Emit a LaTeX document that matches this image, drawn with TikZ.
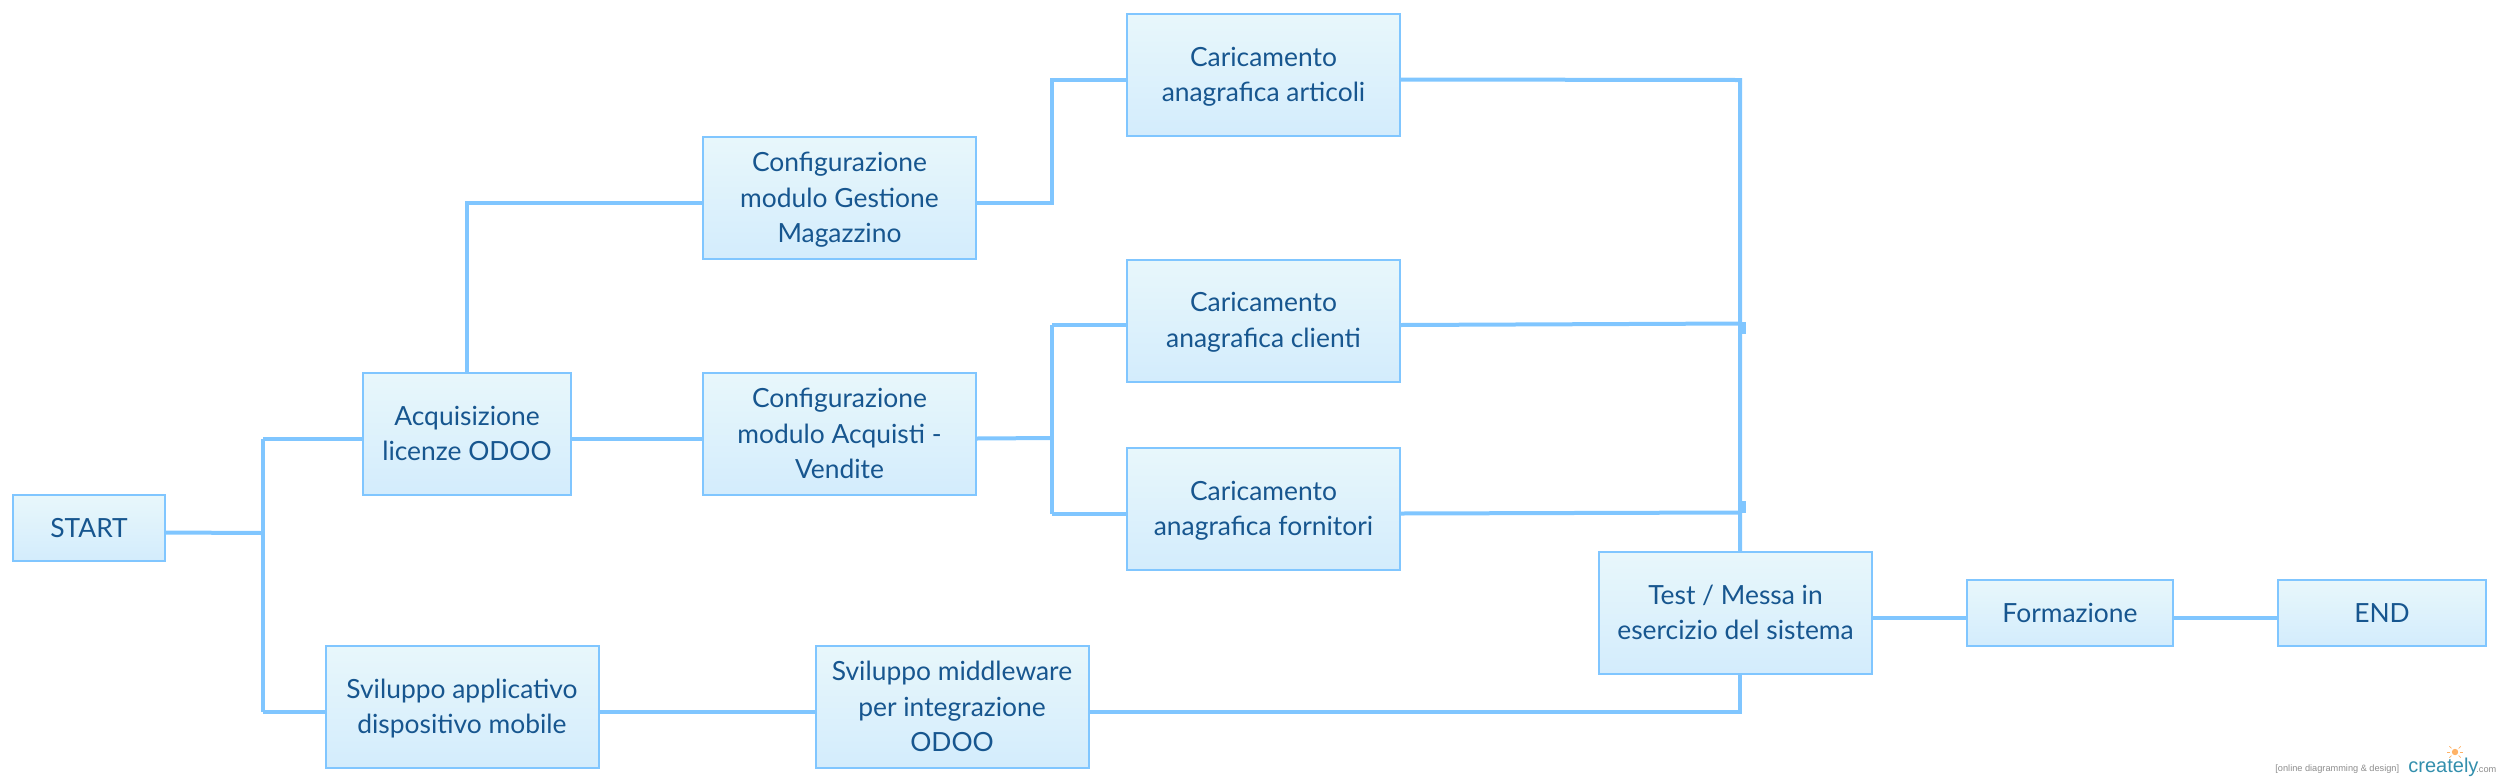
\documentclass[tikz,border=0pt]{standalone}
\usepackage{fontspec}
\setmainfont{Lato}
\newfontfamily\logofont{Liberation Sans}
\definecolor{linec}{HTML}{80C6FF}
\definecolor{txtc}{HTML}{17568F}
\definecolor{topc}{HTML}{E8F7FB}
\definecolor{botc}{HTML}{D3ECFC}
\tikzset{
  bx/.style 2 args={draw=linec,line width=1pt,top color=topc,bottom color=botc,
    minimum width=#1*0.5pt,minimum height=#2*0.5pt,inner sep=0pt,outer sep=0pt,
    text=txtc,font=\fontsize{13.2}{17.7}\selectfont},
  conn/.style={draw=linec,line width=2pt,line join=miter}
}
\newcommand{\tl}[1]{\raisebox{-1pt}[\height][\depth]{\begin{tabular}{@{}c@{}}#1\end{tabular}}}
\newcommand{\ports}[1]{%
  \coordinate (#1W) at ([yshift=-2.25pt]#1.west);
  \coordinate (#1E) at ([yshift=-2.25pt]#1.east);}
\begin{document}
\begin{tikzpicture}[x=0.5pt,y=-0.5pt]
\useasboundingbox (0,0) rectangle (2500,783);
\coordinate (j1) at (263,533);
\coordinate (j2) at (1052,438);
\coordinate (bus) at (1740,80);
\node[bx={152}{66}] (start) at (89,528) {\tl{START}};
\node[bx={208}{122}] (acq) at (467,434) {\tl{Acquisizione\\licenze ODOO}};
\node[bx={273}{122}] (app) at (462,707) {\tl{Sviluppo applicativo\\dispositivo mobile}};
\node[bx={273}{122}] (ges) at (839.5,198) {\tl{Configurazione\\modulo Gestione\\Magazzino}};
\node[bx={273}{122}] (acv) at (839.5,434) {\tl{Configurazione\\modulo Acquisti -\\Vendite}};
\node[bx={273}{122}] (mid) at (952,707) {\tl{Sviluppo middleware\\per integrazione\\ODOO}};
\node[bx={273}{122}] (art) at (1263.5,75) {\tl{Caricamento\\anagrafica articoli}};
\node[bx={273}{122}] (cli) at (1263.5,320.5) {\tl{Caricamento\\anagrafica clienti}};
\node[bx={273}{122}] (forn) at (1263.5,509) {\tl{Caricamento\\anagrafica fornitori}};
\node[bx={273}{122}] (test) at (1735.5,613) {\tl{Test / Messa in\\esercizio del sistema}};
\node[bx={206}{66}] (form) at (2070,613) {\tl{Formazione}};
\node[bx={208}{66}] (endn) at (2382,613) {\tl{END}};
\ports{start}\ports{acq}\ports{app}\ports{ges}\ports{acv}\ports{mid}\ports{art}\ports{cli}\ports{forn}\ports{test}\ports{form}\ports{endn}
\coordinate (tab1) at (1740,323.5);
\coordinate (tab2) at (1740,512.5);
\begin{scope}[every path/.append style={conn}]
\draw (startE) -- (j1);
\draw (j1 |- acqW) -- (j1 |- appW);
\draw (j1 |- acqW) -- (acqW);
\draw (j1 |- appW) -- (appW);
\draw (acq.north) |- (gesW);
\draw (acqE) -- (acvW);
\draw (gesE) -- (j2 |- gesE) -- (j2 |- artW) -- (artW);
\draw (acvE) -- (j2);
\draw (j2 |- cliW) -- (j2 |- fornW);
\draw (j2 |- cliW) -- (cliW);
\draw (j2 |- fornW) -- (fornW);
\draw (artE) -- (bus) -- (bus |- test.north);
\draw (cliE) -- (tab1);
\draw (fornE) -- (tab2);
\draw (appE) -- (midW);
\draw (midE) -- (bus |- midE) -- (bus |- test.south);
\draw (testE) -- (formW);
\draw (formE) -- (endnW);
\end{scope}
\fill[linec] (1740,322) rectangle (1746,334);
\fill[linec] (1740,501) rectangle (1746,513);
% watermark
\node[inner sep=0pt,anchor=west,text=black!45,font=\logofont\fontsize{4.6}{5}\selectfont] (wm1) at (2275,769) {[online diagramming \& design]};
\node[inner sep=0pt,anchor=west,text=blue!25!cyan!60!black!80,font=\logofont\fontsize{10}{12}\selectfont] (wm2) at (2408,767) {creately};
\node[inner sep=0pt,anchor=west,text=black!45,font=\logofont\fontsize{4.6}{5}\selectfont] (wm3) at (2476,770) {.com};
\fill[orange!60] (2455,752) circle (3.2);
\foreach \a in {0,45,135,180,225,315}
  \draw[orange!60,line width=0.35pt] (2455,752) ++(\a:5) -- ++(\a:3);
\end{tikzpicture}
\end{document}
